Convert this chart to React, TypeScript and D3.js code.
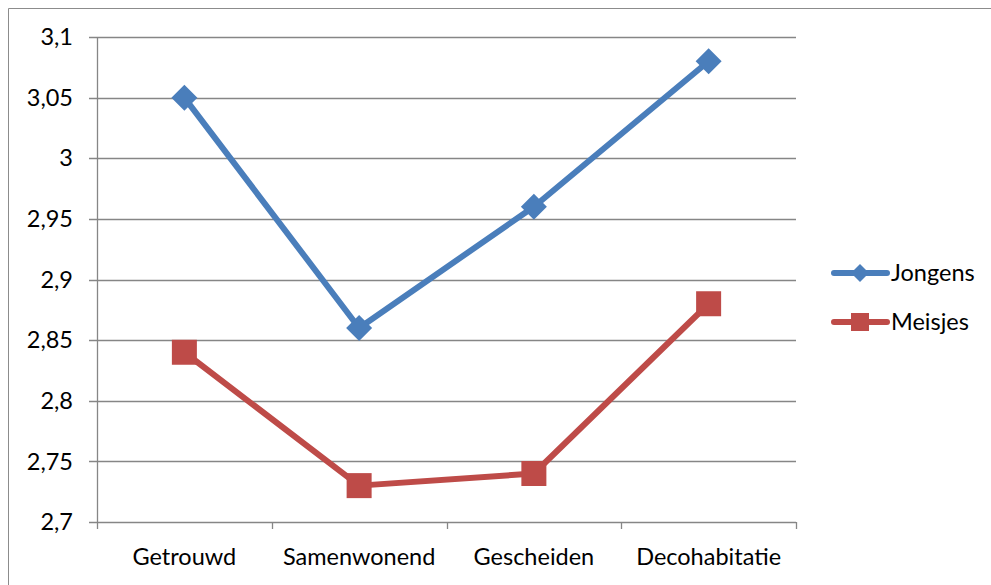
import * as React from "react";
import { scaleLinear, scaleBand, line, range } from "d3";

const categories = ["Getrouwd", "Samenwonend", "Gescheiden", "Decohabitatie"];
const jongens = [3.05, 2.86, 2.96, 3.08];
const meisjes = [2.84, 2.73, 2.74, 2.88];
const yTicks = [2.7, 2.75, 2.8, 2.85, 2.9, 2.95, 3.0, 3.05, 3.1];

const width = 991, height = 585;
const plot = { left: 97, right: 796, top: 37, bottom: 522 };
const font = "Lato, 'Open Sans', sans-serif";
const fontSize = 23.5;
const blue = "#4a7ebb", red = "#be4b48";

const fmt = (v: number) => {
    const s = String(Math.round(v * 100) / 100);
    return s.replace(".", ",");
};

const App: React.FC = () => {
    const x = scaleBand().domain(categories).range([plot.left, plot.right]);
    const y = scaleLinear().domain([2.7, 3.1]).range([plot.bottom, plot.top]);
    const cx = (c: string) => (x(c) as number) + x.bandwidth() / 2;

    const mkLine = (vals: number[]) =>
        line<number>()
            .x((_, i) => cx(categories[i]))
            .y(d => y(d))(vals) as string;

    const legend = [
        { name: "Jongens", color: blue, shape: "diamond", y: 273 },
        { name: "Meisjes", color: red, shape: "square", y: 322 },
    ];

    const marker = (shape: string, px: number, py: number, color: string, key: any) =>
        shape === "diamond" ? (
            <path key={key} d={`M${px},${py - 13}L${px + 13},${py}L${px},${py + 13}L${px - 13},${py}Z`} fill={color} />
        ) : (
            <rect key={key} x={px - 12.5} y={py - 12.5} width={25} height={25} fill={color} />
        );

    return (
        <svg width={width} height={height} style={{ position: "absolute", left: 0, top: 0 }}>
            <rect x={0} y={0} width={width} height={height} fill="#fff" />
            <path d={`M8.5,${height}V8.5H${width}`} fill="none" stroke="#8c8c8c" strokeWidth={1} />
            {yTicks.map(t => (
                <g key={t}>
                    <line x1={plot.left - 8} x2={plot.right} y1={Math.round(y(t)) + 0.5} y2={Math.round(y(t)) + 0.5} stroke="#868686" strokeWidth={1.3} />
                    <text x={73} y={y(t)} dy="0.35em" textAnchor="end" fontFamily={font} fontSize={fontSize} fill="#000">{fmt(t)}</text>
                </g>
            ))}
            <line x1={plot.left + 0.5} x2={plot.left + 0.5} y1={plot.top} y2={plot.bottom} stroke="#868686" strokeWidth={1.3} />
            {range(categories.length + 1).map(i => {
                const px = Math.round(plot.left + i * x.bandwidth()) + 0.5;
                return <line key={i} x1={px} x2={px} y1={plot.bottom} y2={plot.bottom + 7} stroke="#868686" strokeWidth={1.3} />;
            })}
            {categories.map(c => (
                <text key={c} x={cx(c)} y={565} textAnchor="middle" fontFamily={font} fontSize={fontSize} fill="#000">{c}</text>
            ))}
            <path d={mkLine(jongens)} fill="none" stroke={blue} strokeWidth={6} strokeLinejoin="round" strokeLinecap="round" />
            <path d={mkLine(meisjes)} fill="none" stroke={red} strokeWidth={6} strokeLinejoin="round" strokeLinecap="round" />
            {jongens.map((v, i) => marker("diamond", cx(categories[i]), y(v), blue, "j" + i))}
            {meisjes.map((v, i) => marker("square", cx(categories[i]), y(v), red, "m" + i))}
            {legend.map(l => (
                <g key={l.name}>
                    <line x1={834} x2={887} y1={l.y} y2={l.y} stroke={l.color} strokeWidth={6} strokeLinecap="round" />
                    {l.shape === "diamond"
                        ? <path d={`M860,${l.y - 9}L869,${l.y}L860,${l.y + 9}L851,${l.y}Z`} fill={l.color} />
                        : <rect x={851} y={l.y - 9} width={18} height={18} fill={l.color} />}
                    <text x={891} y={l.y} dy="0.35em" fontFamily={font} fontSize={fontSize} fill="#000">{l.name}</text>
                </g>
            ))}
        </svg>
    );
};

export default App;
